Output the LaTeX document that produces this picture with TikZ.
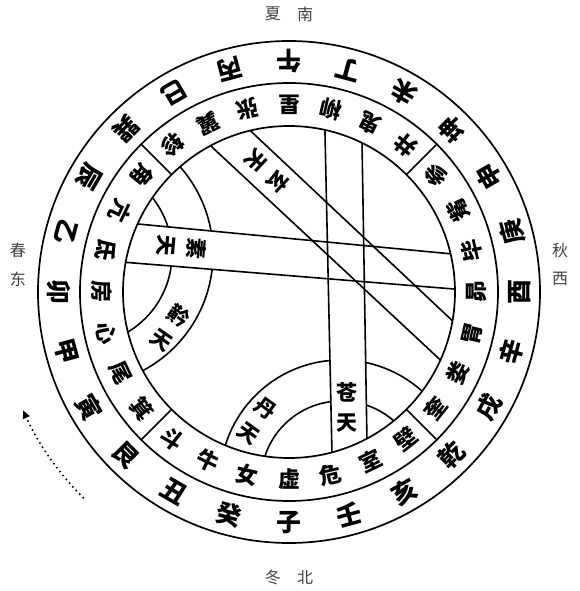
\documentclass[tikz,border=0pt]{standalone}
\usepackage{fontspec}
\newfontfamily\cjk{Noto Sans CJK SC}
\usetikzlibrary{calc,arrows.meta}
\begin{document}
\begin{tikzpicture}[x=1pt,y=1pt,
  ringline/.style={line width=1.7pt},
  bandline/.style={line width=1.6pt},
  gan/.style={font=\cjk\bfseries\fontsize{25}{25}\selectfont, inner sep=0pt},
  xiu/.style={font=\cjk\bfseries\fontsize{22}{22}\selectfont, inner sep=0pt},
  tian/.style={font=\cjk\bfseries\fontsize{21}{30}\selectfont, inner sep=0pt, align=center},
  season/.style={font=\cjk\fontsize{16}{16}\selectfont, text=black!75, inner sep=0pt}]
\useasboundingbox (-289,-299) rectangle (291,292);
\coordinate (O) at (0,0);

% arcs of the curved bands
\begin{scope}
  \clip (O) circle (166);
  \draw[bandline] (-208,38) circle (91) (-208,38) circle (132);
  \draw[bandline] (52,-189) circle (80) (52,-189) circle (121);
\end{scope}

% straight band end points
\coordinate (c1a) at (77.5:166);  \coordinate (c1b) at (-75:166);
\coordinate (c2a) at (63.9:166);  \coordinate (c2b) at (-62:166);
\coordinate (s1a) at (155.8:166); \coordinate (s1b) at (13.3:166);
\coordinate (s2a) at (169.7:166); \coordinate (s2b) at (1.0:166);
\coordinate (x1a) at (118.2:166); \coordinate (x1b) at (-24.2:166);
\coordinate (x2a) at (103.5:166); \coordinate (x2b) at (-10:166);

\begin{scope}
  \clip (O) circle (166);
  \fill[white] ($(c1a)!-0.3!(c1b)$) -- ($(c1b)!-0.3!(c1a)$) -- ($(c2b)!-0.3!(c2a)$) -- ($(c2a)!-0.3!(c2b)$) -- cycle;
  \fill[white] ($(s1a)!-0.3!(s1b)$) -- ($(s1b)!-0.3!(s1a)$) -- ($(s2b)!-0.3!(s2a)$) -- ($(s2a)!-0.3!(s2b)$) -- cycle;
\end{scope}

\draw[bandline] (c1a) -- (c1b) (c2a) -- (c2b);
\draw[bandline] (s1a) -- (s1b) (s2a) -- (s2b);
\draw[bandline] (x1a) -- (x1b) (x2a) -- (x2b);

% circles and dividers
\draw[ringline] (O) circle (251) (O) circle (209) (O) circle (166);
\foreach \a in {45,135,225,315}
  \draw[ringline] (\a:166) -- (\a:209);

% 24 directions
\foreach \c [count=\i from 0] in {午,丁,未,坤,申,庚,酉,辛,戌,乾,亥,壬,子,癸,丑,艮,寅,甲,卯,乙,辰,巽,巳,丙}{
  \pgfmathsetmacro{\ang}{90-15*\i}
  \node[gan, rotate=\ang+90] (g\i) at (\ang:230.5) {\c};
}

% 28 mansions
\foreach \c [count=\i from 0] in {轸,翼,张,星,柳,鬼,井,参,觜,毕,昴,胃,娄,奎,壁,室,危,虚,女,牛,斗,箕,尾,心,房,氐,亢,角}{
  \pgfmathsetmacro{\ang}{128.5714-12.85714*\i}
  \node[xiu, rotate=\ang+90] (m\i) at (\ang:187.5) {\c};
}

% five heavens
\node[tian] (cang) at (58,-115) {苍\\天};
\node[tian, rotate=-36] (dan) at (-32,-129) {丹\\天};
\node[tian, rotate=-35] (jin) at (-119,-36) {黅\\天};
\node[tian, rotate=-95] (su) at (-107,45) {素\\天};
\node[tian, rotate=-133] (xuan) at (-22,121) {玄\\天};

% seasons
\node[season] (xia) at (-16,278) {夏};
\node[season] (nan) at (16,278) {南};
\node[season] (chun) at (-271,42) {春};
\node[season] (dong) at (-271,13) {东};
\node[season] (qiu) at (271,42) {秋};
\node[season] (xi) at (271,13) {西};
\node[season] (winter) at (-16,-285) {冬};
\node[season] (bei) at (16,-285) {北};

% dotted arrow
\coordinate (arrS) at (-135:291);
\draw[line width=2.2pt, line cap=round, dash pattern=on 0pt off 5pt,
      -{Triangle[length=8pt,width=7pt]}]
  (arrS) arc[start angle=-135, end angle=-156, radius=291];
\end{tikzpicture}
\end{document}
